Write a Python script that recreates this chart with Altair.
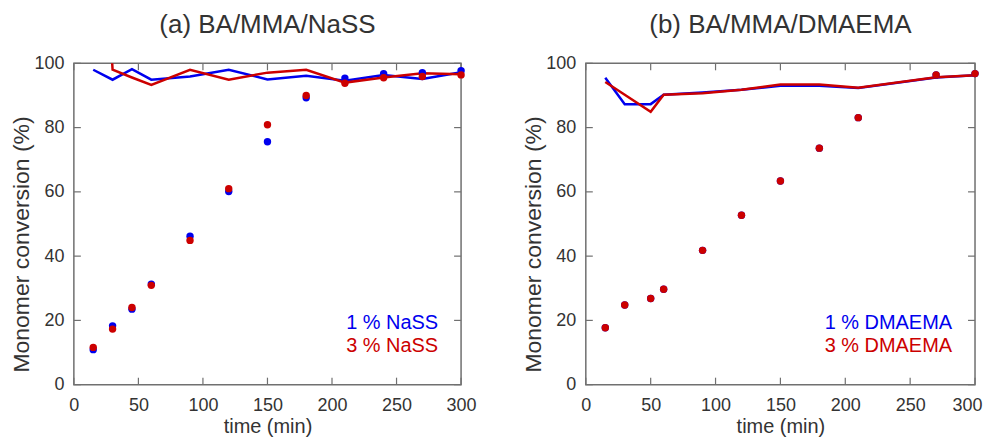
import altair as alt
import pandas as pd

# ---------------- data ----------------
# (a) BA/MMA/NaSS
T_A = [15, 30, 45, 60, 90, 120, 150, 180, 210, 240, 270, 300]
A_PTS_1 = [10.9, 18.3, 23.5, 31.3, 46.2, 60.1, 75.6, 89.3, 95.4, 96.8, 97.1, 97.7]
A_PTS_3 = [11.6, 17.3, 24.0, 30.9, 44.9, 61.0, 80.9, 90.0, 93.8, 95.5, 95.9, 96.4]
A_LINE_1 = [98.0, 94.9, 98.2, 94.9, 95.9, 98.0, 95.0, 96.1, 94.6, 96.4, 95.1, 97.2]
A_LINE_3 = [200.0, 98.0, 95.6, 93.3, 98.0, 94.9, 97.1, 98.0, 94.0, 95.6, 96.9, 96.6]

# (b) BA/MMA/DMAEMA
T_B = [15, 30, 50, 60, 90, 120, 150, 180, 210, 270, 300]
B_PTS_1 = [17.7, 24.8, 26.8, 29.7, 41.8, 52.7, 63.4, 73.6, 83.1, 96.4, 96.8]
B_PTS_3 = [17.7, 24.8, 26.8, 29.7, 41.8, 52.7, 63.4, 73.6, 83.1, 96.4, 96.8]
B_LINE_1 = [95.5, 87.3, 87.3, 90.2, 90.9, 91.8, 93.0, 93.0, 92.3, 95.6, 96.3]
B_LINE_3 = [94.2, 90.2, 84.9, 90.2, 90.7, 91.8, 93.4, 93.4, 92.4, 95.7, 96.3]

X_TICKS = [0, 50, 100, 150, 200, 250, 300]
Y_TICKS = [0, 20, 40, 60, 80, 100]

TITLES = ["(a) BA/MMA/NaSS", "(b) BA/MMA/DMAEMA"]
LEGEND_A = ["1 % NaSS", "3 % NaSS"]
LEGEND_B = ["1 % DMAEMA", "3 % DMAEMA"]

BLUE = "#0000ee"
RED = "#cc0000"
TXT = "#333333"
FRAME = "#707070"
FONT = "Liberation Sans"
H = 322
TICK = 7


def df_of(t, v):
    return pd.DataFrame({"t": t, "v": v})


def panel(times, p1, p3, l1, l3, title, legend, W, leg_x, last_label_right):
    XS = alt.Scale(domain=[0, 300], nice=False, zero=False)
    YS = alt.Scale(domain=[0, 100], nice=False, zero=False)

    x_axis_kw = dict(values=X_TICKS, ticks=False, domain=False, grid=False, labelFlush=False,
                     title="time (min)", labelPadding=12, titlePadding=2)
    if last_label_right:
        x_axis_kw["labelAlign"] = {"condition": {"test": "datum.value == 300", "value": "right"}, "value": "center"}
        x_axis_kw["labelOffset"] = {"condition": {"test": "datum.value == 300", "value": 7}, "value": 0}
    y_axis_kw = dict(values=Y_TICKS, ticks=False, domain=False, grid=False, labelFlush=False,
                     title="Monomer conversion (%)", titleFontSize=23, labelPadding=10,
                     titlePadding=0, titleY=H / 2 + 20)

    xa = alt.X("t:Q", scale=XS, axis=alt.Axis(**x_axis_kw))
    ya = alt.Y("v:Q", scale=YS, axis=alt.Axis(**y_axis_kw))

    line1 = alt.Chart(df_of(times, l1)).mark_line(color=BLUE, strokeWidth=2.5, clip=True).encode(x=xa, y=ya)
    line3 = alt.Chart(df_of(times, l3)).mark_line(color=RED, strokeWidth=2.5, clip=True).encode(x=xa, y=ya)
    pts1 = alt.Chart(df_of(times, p1)).mark_circle(color=BLUE, size=55, opacity=1).encode(x=xa, y=ya)
    pts3 = alt.Chart(df_of(times, p3)).mark_circle(color=RED, size=55, opacity=1).encode(x=xa, y=ya)

    leg1 = alt.Chart(pd.DataFrame({"label": [legend[0]]})).mark_text(
        align="right", baseline="middle", fontSize=20, font=FONT, color=BLUE
    ).encode(text="label:N", x=alt.value(leg_x), y=alt.value(260))
    leg3 = alt.Chart(pd.DataFrame({"label": [legend[1]]})).mark_text(
        align="right", baseline="middle", fontSize=20, font=FONT, color=RED
    ).encode(text="label:N", x=alt.value(leg_x), y=alt.value(283))

    # inward tick marks on all four sides, placed through the scales
    xt = pd.DataFrame({"t": X_TICKS})
    yt = pd.DataFrame({"v": Y_TICKS})
    tick_style = dict(color=FRAME, strokeWidth=1.2)
    xt_bot = alt.Chart(xt).mark_rule(**tick_style).encode(x=xa, y=alt.value(H), y2=alt.value(H - TICK))
    xt_top = alt.Chart(xt).mark_rule(**tick_style).encode(x=xa, y=alt.value(0), y2=alt.value(TICK))
    yt_left = alt.Chart(yt).mark_rule(**tick_style).encode(y=ya, x=alt.value(0), x2=alt.value(TICK))
    yt_right = alt.Chart(yt).mark_rule(**tick_style).encode(y=ya, x=alt.value(W - TICK), x2=alt.value(W))

    return alt.layer(xt_bot, xt_top, yt_left, yt_right, line1, line3, pts1, pts3, leg1, leg3).properties(
        width=W, height=H,
        title=alt.TitleParams(title, fontSize=26, font=FONT, color=TXT, fontWeight="normal", offset=16),
    )


left = panel(T_A, A_PTS_1, A_PTS_3, A_LINE_1, A_LINE_3, TITLES[0], LEGEND_A, 388, 365, False)
right = panel(T_B, B_PTS_1, B_PTS_3, B_LINE_1, B_LINE_3, TITLES[1], LEGEND_B, 390, 367, True)

chart = alt.hconcat(left, right, spacing=45).properties(
    padding={"left": 2, "top": 3, "right": 0, "bottom": 0}
).configure_view(
    stroke=FRAME, strokeWidth=1.5
).configure_axis(
    labelFont=FONT, titleFont=FONT, labelFontSize=18, titleFontSize=20,
    labelColor=TXT, titleColor=TXT, titleFontWeight="normal"
)

chart.save("out.html", embed_options={"renderer": "svg", "actions": False})
